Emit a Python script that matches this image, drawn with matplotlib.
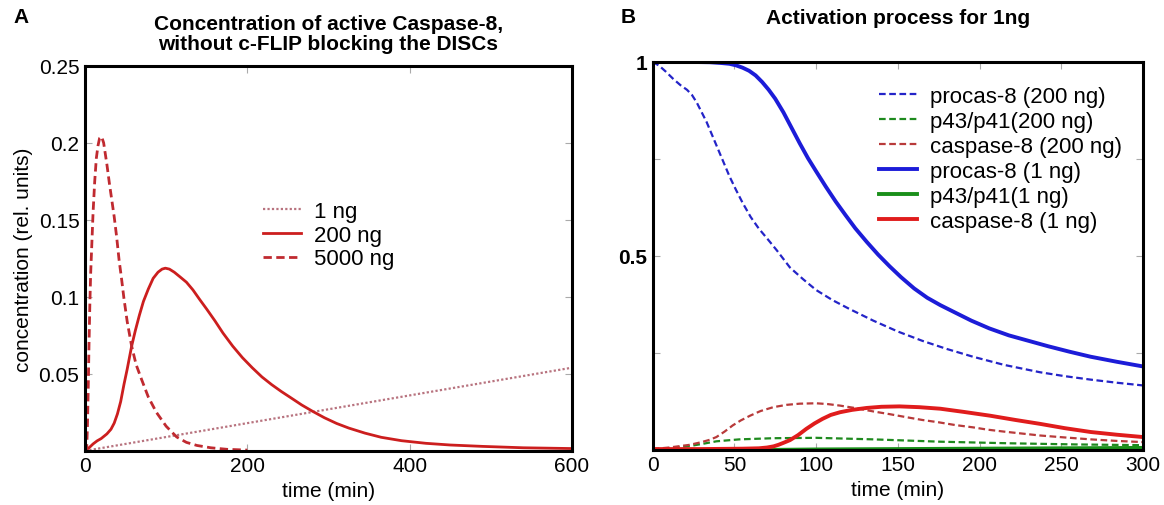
# Caspase-8 activation: two panels
import numpy as np
import matplotlib.pyplot as plt

plt.rcParams['font.family'] = ['Liberation Sans', 'DejaVu Sans']

# Panel A: active caspase-8, rel. units
t_1ng = [0, 100, 200, 300, 400, 500, 600]
c_1ng = [0.0, 0.009, 0.018, 0.027, 0.036, 0.045, 0.054]

t_200ng = [0, 5, 10, 15, 20, 27, 32, 36, 40, 44, 48, 52, 57.5, 62, 67, 72, 78, 84, 90, 95,
           99, 104, 110, 117, 125, 133, 141, 150, 160, 170, 182, 194, 206, 218, 230, 242,
           255, 267, 280, 295, 310, 325, 345, 365, 390, 420, 450, 490, 540, 600]
c_200ng = [0, 0.002, 0.0045, 0.0065, 0.008, 0.011, 0.014, 0.018, 0.024, 0.032, 0.043, 0.053,
           0.068, 0.078, 0.088, 0.097, 0.105, 0.112, 0.116, 0.118, 0.1186, 0.118, 0.116,
           0.113, 0.1095, 0.1045, 0.0985, 0.092, 0.0845, 0.0765, 0.068, 0.0605, 0.054,
           0.048, 0.043, 0.0385, 0.034, 0.0298, 0.0258, 0.0215, 0.0178, 0.0148, 0.0115,
           0.0088, 0.0066, 0.0049, 0.0038, 0.0029, 0.002, 0.0015]

t_5000ng = [0, 2, 3, 4, 5, 6, 7, 8.5, 10, 12, 14, 16, 18, 20.5, 23, 25, 27, 30, 33, 36, 39,
            42, 45, 48, 52, 57.5, 63, 70, 78, 88, 100, 113, 125, 138, 155, 175, 200]
c_5000ng = [0, 0, 0.015, 0.04, 0.07, 0.095, 0.115, 0.135, 0.155, 0.175, 0.19, 0.198, 0.203,
            0.204, 0.2, 0.193, 0.186, 0.174, 0.163, 0.152, 0.139, 0.124, 0.112, 0.099, 0.084,
            0.068, 0.056, 0.046, 0.035, 0.025, 0.016, 0.009, 0.0055, 0.0035, 0.002, 0.001,
            0.0005]

# Panel B: activation process
t_pro1 = [0, 20, 35, 42, 47, 51, 55, 59, 63, 67, 71, 75, 80, 85, 90, 95, 100, 106, 112, 118,
          124, 131, 138, 145, 152, 160, 168, 176, 185, 195, 206, 218, 230, 242, 255, 268,
          284, 300]
pro1 = [1, 1, 0.999, 0.997, 0.995, 0.991, 0.985, 0.977, 0.965, 0.948, 0.928, 0.905, 0.87,
        0.83, 0.79, 0.752, 0.718, 0.678, 0.64, 0.605, 0.571, 0.536, 0.503, 0.473, 0.445,
        0.416, 0.392, 0.373, 0.354, 0.333, 0.313, 0.295, 0.281, 0.267, 0.253, 0.24, 0.227,
        0.215]

t_pro200 = [0, 4, 8, 12.6, 17, 21, 24, 27, 30, 33, 36, 39, 43, 47, 51, 55, 60, 65, 70, 76,
            84, 92, 100, 110, 120, 135, 150, 165, 180, 196, 215, 237, 252, 268, 284, 300]
pro200 = [1, 0.99, 0.975, 0.956, 0.94, 0.928, 0.915, 0.895, 0.87, 0.845, 0.815, 0.785,
          0.745, 0.705, 0.67, 0.637, 0.6, 0.57, 0.545, 0.514, 0.47, 0.44, 0.412, 0.386,
          0.364, 0.333, 0.305, 0.281, 0.26, 0.24, 0.219, 0.2, 0.19, 0.181, 0.173, 0.166]

t_cas200 = [0, 10, 22.8, 30, 35, 39, 44, 49, 54, 59.6, 66, 73.8, 82, 90, 100, 107, 114.7,
            125, 135, 145, 155.5, 165, 175, 185, 196, 205, 215, 226, 237, 252, 268, 284, 300]
cas200 = [0.002, 0.006, 0.013, 0.02, 0.026, 0.033, 0.047, 0.063, 0.076, 0.088, 0.1, 0.11,
          0.116, 0.119, 0.12, 0.118, 0.114, 0.107, 0.099, 0.092, 0.084, 0.077, 0.071, 0.064,
          0.058, 0.052, 0.047, 0.042, 0.037, 0.032, 0.027, 0.023, 0.02]

t_cas1 = [0, 30, 55, 65, 70, 74, 77, 80, 84, 89, 94, 99, 104, 109, 114.7, 122, 131, 140, 151,
          163, 176, 190, 206.5, 222, 237, 252, 268, 284, 300]
cas1 = [0.002, 0.002, 0.003, 0.004, 0.006, 0.009, 0.013, 0.018, 0.025, 0.038, 0.054, 0.068,
        0.08, 0.09, 0.097, 0.103, 0.108, 0.111, 0.112, 0.11, 0.106, 0.098, 0.088, 0.077,
        0.067, 0.056, 0.046, 0.039, 0.033]

t_p43_200 = [0, 10, 23, 30, 39, 53, 74, 100, 135, 176, 217, 258, 300]
p43_200 = [0.001, 0.004, 0.01, 0.015, 0.022, 0.027, 0.03, 0.031, 0.027, 0.021, 0.017,
           0.014, 0.012]

t_p43_1 = [0, 75, 100, 150, 200, 250, 300]
p43_1 = [0, 0, 0.001, 0.002, 0.003, 0.004, 0.005]

fig = plt.figure(figsize=(11.64, 5.06), dpi=100)
axA = fig.add_axes([0.073, 0.107, 0.4184, 0.761])
axB = fig.add_axes([0.5607, 0.109, 0.4212, 0.7668])

red = '#cc1e1e'
dash = (0, (3, 1.6))
axA.plot(t_1ng, c_1ng, color='#b8737f', lw=1.6, ls=(0, (1, 1)), label='1 ng')
axA.plot(t_200ng, c_200ng, color=red, lw=2, label='200 ng')
axA.plot(t_5000ng, c_5000ng, color='#c02a30', lw=2, ls=dash, label='5000 ng')
axA.set_xlim(0, 600)
axA.set_ylim(0, 0.25)
axA.set_xticks([0, 200, 400, 600])
axA.set_yticks([0.05, 0.1, 0.15, 0.2, 0.25])
axA.set_yticklabels(['0.05', '0.1', '0.15', '0.2', '0.25'])
axA.set_xlabel('time (min)', fontsize=15, labelpad=4)
axA.set_ylabel('concentration (rel. units)', fontsize=15, labelpad=4)
axA.set_title('Concentration of active Caspase-8,\nwithout c-FLIP blocking the DISCs',
              fontsize=15, fontweight='bold', pad=12, linespacing=1.1)
axA.legend(loc='center left', bbox_to_anchor=(0.325, 0.56), frameon=False, fontsize=16,
           handlelength=1.7, labelspacing=0.12, handletextpad=0.6)

axB.plot(t_pro200, pro200, color='#2424c8', lw=1.6, ls=dash, label='procas-8 (200 ng)')
axB.plot(t_p43_200, p43_200, color='#1e8a1e', lw=1.6, ls=dash, label='p43/p41(200 ng)')
axB.plot(t_cas200, cas200, color='#b83a3a', lw=1.6, ls=dash, label='caspase-8 (200 ng)')
axB.plot(t_pro1, pro1, color='#1c1cd8', lw=2.8, label='procas-8 (1 ng)')
axB.plot(t_p43_1, p43_1, color='#1a8f1a', lw=2.8, label='p43/p41(1 ng)')
axB.plot(t_cas1, cas1, color='#e01c1c', lw=2.8, label='caspase-8 (1 ng)')
axB.set_xlim(0, 300)
axB.set_ylim(0, 1)
axB.set_xticks([0, 50, 100, 150, 200, 250, 300])
axB.set_yticks([0.25, 0.5, 0.75, 1])
axB.set_yticklabels(['', '0.5', '', '1'], fontweight='bold')
axB.set_xlabel('time (min)', fontsize=15, labelpad=4)
axB.set_title('Activation process for 1ng', fontsize=15, fontweight='bold', pad=28)
axB.legend(loc='upper right', bbox_to_anchor=(0.998, 0.99), frameon=False, fontsize=16,
           handlelength=1.7, labelspacing=0.18, handletextpad=0.6)

for ax in (axA, axB):
    for s in ax.spines.values():
        s.set_linewidth(2.2)
    ax.tick_params(direction='in', top=True, right=True, length=5, width=0.8,
                   color='#aaaaaa', labelsize=15, pad=4)

fig.text(0.012, 0.965, 'A', fontsize=15, fontweight='bold', va='center')
fig.text(0.533, 0.965, 'B', fontsize=15, fontweight='bold', va='center')

fig.savefig('out.png', dpi=100)
